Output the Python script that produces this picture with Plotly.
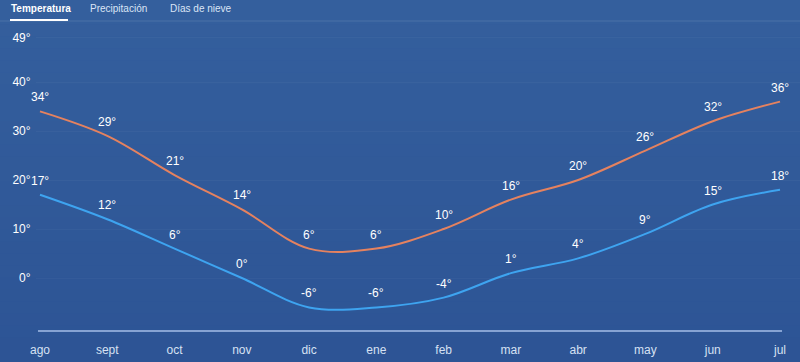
import plotly.graph_objects as go

months = ["ago", "sept", "oct", "nov", "dic", "ene", "feb", "mar", "abr", "may", "jun", "jul"]
highs = [34, 29, 21, 14, 6, 6, 10, 16, 20, 26, 32, 36]
lows = [17, 12, 6, 0, -6, -6, -4, 1, 4, 9, 15, 18]
y_ticks = [0, 10, 20, 30, 40, 49]
tabs = ["Temperatura", "Precipitación", "Días de nieve"]

FONT = "Liberation Sans, Arial, sans-serif"
W, H = 800, 362
L, R, T, B = 36, 0, 30, 30
plot_w = W - L - R
plot_h = H - T - B
unit = (780 - 40) / 11.0
x_min = -(40 - L) / unit
x_max = 11 + (W - R - 780) / unit
px_per_deg = 4.9
y_max = (278 - T) / px_per_deg
y_min = (278 - (H - B)) / px_per_deg

xs = list(range(len(months)))

fig = go.Figure()
fig.add_trace(go.Scatter(
    x=xs, y=highs, mode="lines",
    line=dict(color="#e5825f", width=2, shape="spline", smoothing=1.0),
    hoverinfo="skip", showlegend=False,
))
fig.add_trace(go.Scatter(
    x=xs, y=lows, mode="lines",
    line=dict(color="#3ea4f0", width=2, shape="spline", smoothing=1.0),
    hoverinfo="skip", showlegend=False,
))

annotations = []
for series in (highs, lows):
    for xi, v in zip(xs, series):
        annotations.append(dict(
            x=xi, y=v, xref="x", yref="y", text=f"{v}°", showarrow=False,
            yshift=14, xanchor="center", yanchor="middle",
            font=dict(color="white", size=12, family=FONT),
        ))

shapes = []
n = 30
top_c = (52, 95, 157)
bot_c = (45, 84, 149)
y0p = -B / plot_h
y1p = 1 + T / plot_h
for i in range(n):
    f = i / (n - 1)
    c = tuple(round(top_c[k] + (bot_c[k] - top_c[k]) * f) for k in range(3))
    ya = y1p - (y1p - y0p) * i / n
    yb = y1p - (y1p - y0p) * (i + 1) / n
    shapes.append(dict(type="rect", xref="paper", yref="paper",
                       x0=-L / plot_w - 0.01, x1=1.01, y0=yb - 0.002, y1=ya,
                       fillcolor="rgb(%d,%d,%d)" % c, line=dict(width=0), layer="below"))
sep_y = 1 + (T - 21) / plot_h
shapes.append(dict(type="line", xref="paper", yref="paper",
                   x0=-L / plot_w, x1=1, y0=sep_y, y1=sep_y,
                   line=dict(color="rgba(255,255,255,0.12)", width=1)))
ul_y = 1 + (T - 20) / plot_h
shapes.append(dict(type="line", xref="paper", yref="paper",
                   x0=(10 - L) / plot_w, x1=(68 - L) / plot_w, y0=ul_y, y1=ul_y,
                   line=dict(color="white", width=2)))
shapes.append(dict(type="line", xref="x", yref="y",
                   x0=-0.03, x1=11.03, y0=y_min + 0.2, y1=y_min + 0.2,
                   line=dict(color="#86a3d3", width=2)))

tab_x = [9, 88, 168]
for i, (t, xp) in enumerate(zip(tabs, tab_x)):
    annotations.append(dict(
        text=("<b>%s</b>" % t) if i == 0 else t,
        xref="paper", yref="paper",
        x=(xp - L) / plot_w, y=1 + (T - 8) / plot_h,
        xanchor="left", yanchor="middle", showarrow=False,
        font=dict(color="white" if i == 0 else "#dbe5f5", size=10, family=FONT),
    ))

fig.update_layout(
    width=W, height=H,
    margin=dict(l=L, r=R, t=T, b=B),
    paper_bgcolor="#30599a",
    plot_bgcolor="rgba(0,0,0,0)",
    shapes=shapes,
    annotations=annotations,
    xaxis=dict(
        range=[x_min, x_max], tickmode="array", tickvals=xs, ticktext=months,
        showgrid=False, zeroline=False, showline=False,
        ticks="outside", ticklen=7, tickcolor="rgba(0,0,0,0)",
        tickfont=dict(color="#d6e1f3", size=12, family=FONT),
        fixedrange=True,
    ),
    yaxis=dict(
        range=[y_min, y_max], tickmode="array", tickvals=y_ticks,
        ticktext=[f"{v}°" for v in y_ticks],
        showgrid=True, gridcolor="rgba(255,255,255,0.03)", gridwidth=1,
        zeroline=False, showline=False,
        ticks="outside", ticklen=2, tickcolor="rgba(0,0,0,0)",
        tickfont=dict(color="white", size=12, family=FONT),
        fixedrange=True,
    ),
    showlegend=False,
)

fig.write_html("out.html", config={"displayModeBar": False})
with open("out.html", "r", encoding="utf-8") as fh:
    html = fh.read()
html = html.replace("<body>", '<body style="margin:0;padding:0;overflow:hidden;background:#30599a">', 1)
with open("out.html", "w", encoding="utf-8") as fh:
    fh.write(html)
